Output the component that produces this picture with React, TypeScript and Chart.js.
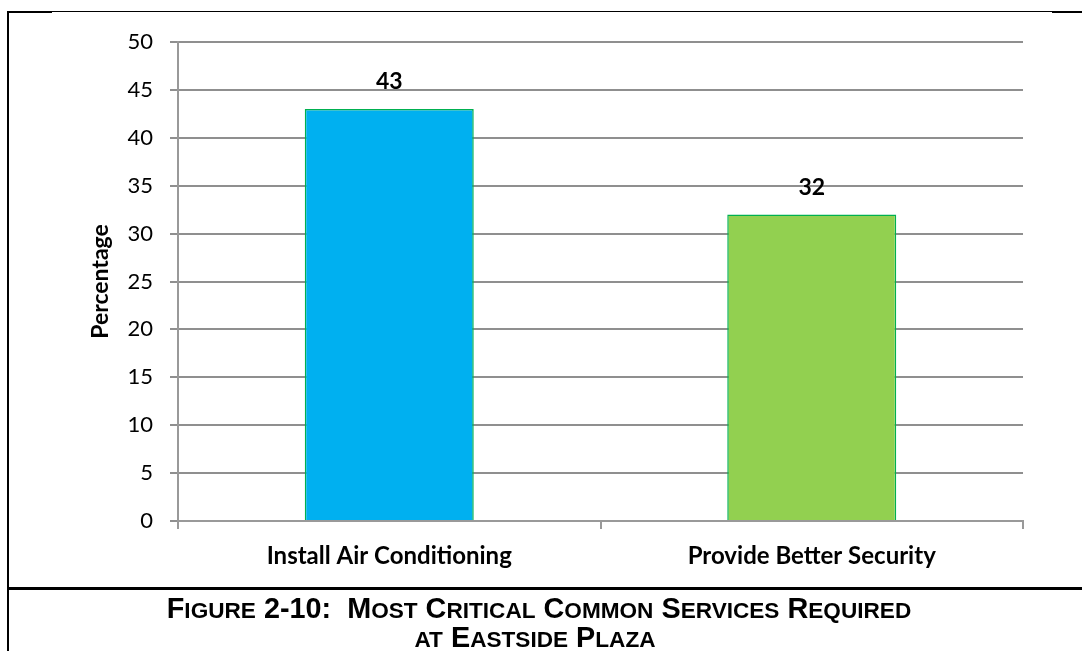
import React, { useEffect, useRef } from "react";
import { Chart, registerables } from "chart.js";

Chart.register(...registerables);

// Survey results: share of respondents naming each service
const categories = ["Install Air Conditioning", "Provide Better Security"];
const percentages = [43, 32];
const barColors = ["#00B0F0", "#92D050"];
const yTicks = [0, 5, 10, 15, 20, 25, 30, 35, 40, 45, 50];

const captionLines = [
  "Figure 2-10:  Most Critical Common Services Required",
  "at Eastside Plaza",
];

const FONT = "Lato, 'Open Sans', sans-serif";

// Writes each bar's value in bold above it
const valueLabels = {
  id: "valueLabels",
  afterDatasetsDraw(chart: any) {
    const { ctx } = chart;
    const meta = chart.getDatasetMeta(0);
    ctx.save();
    ctx.font = `bold 23px ${FONT}`;
    ctx.fillStyle = "#000";
    ctx.textAlign = "center";
    ctx.textBaseline = "middle";
    meta.data.forEach((bar: any, i: number) => {
      ctx.fillText(String(percentages[i]), bar.x, bar.y - 27);
    });
    ctx.restore();
  },
};

// Small-caps caption: capitals full size, lower-case letters as smaller capitals
function SmallCaps({ text }: { text: string }) {
  const parts: { small: boolean; s: string }[] = [];
  for (const ch of text) {
    const small = ch >= "a" && ch <= "z";
    const last = parts[parts.length - 1];
    if (last && last.small === small) last.s += ch;
    else parts.push({ small, s: ch });
  }
  return (
    <>
      {parts.map((p, i) =>
        p.small ? (
          <span key={i} style={{ fontSize: 22.6 }}>
            {p.s.toUpperCase()}
          </span>
        ) : (
          <span key={i}>{p.s}</span>
        )
      )}
    </>
  );
}

export default function App() {
  const canvasRef = useRef<HTMLCanvasElement | null>(null);

  useEffect(() => {
    if (!canvasRef.current) return;
    const chart = new Chart(canvasRef.current, {
      type: "bar",
      data: {
        labels: categories,
        datasets: [
          {
            data: percentages,
            backgroundColor: barColors,
            borderColor: "#00B050",
            borderWidth: 1.5,
            categoryPercentage: 1,
            barPercentage: 0.4,
          },
        ],
      },
      options: {
        responsive: false,
        animation: false,
        layout: { padding: { left: 0, top: 42, right: 59, bottom: 70 } },
        plugins: {
          legend: { display: false },
          tooltip: { enabled: false },
          title: { display: false },
        },
        scales: {
          x: {
            offset: true,
            afterFit: (scale: any) => {
              scale.height = 60;
            },
            grid: {
              offset: true,
              drawOnChartArea: false,
              drawTicks: true,
              tickLength: 8,
              color: "#999999",
              lineWidth: 2,
            },
            border: { display: true, color: "#999999", width: 2 },
            ticks: {
              color: "#000",
              padding: 13,
              maxRotation: 0,
              font: { family: FONT, size: 24, weight: "bold" },
            },
          },
          y: {
            min: 0,
            max: 50,
            afterFit: (scale: any) => {
              scale.width = 178;
            },
            afterBuildTicks: (scale: any) => {
              scale.ticks = yTicks.map((v) => ({ value: v }));
            },
            grid: {
              color: "#8f8f8f",
              lineWidth: 2,
              drawTicks: true,
              tickLength: 8,
            },
            border: { display: true, color: "#999999", width: 2 },
            ticks: {
              color: "#000",
              padding: 17,
              font: { family: FONT, size: 22 },
            },
            title: {
              display: true,
              text: "Percentage",
              color: "#000",
              font: { family: FONT, size: 23, weight: "bold" },
              padding: { top: 87, bottom: 0 },
            },
          },
        },
      },
      plugins: [valueLabels],
    });
    return () => chart.destroy();
  }, []);

  const titleStyle: React.CSSProperties = {
    position: "absolute",
    left: 8,
    width: 1062,
    textAlign: "center",
    fontFamily: "'Liberation Sans', Arial, sans-serif",
    fontWeight: "bold",
    fontSize: 28.8,
    lineHeight: "28px",
    whiteSpace: "pre",
    color: "#000",
  };

  return (
    <div
      style={{
        position: "absolute",
        left: 0,
        top: 0,
        width: 1082,
        height: 651,
        background: "#fff",
        overflow: "hidden",
      }}
    >
      <canvas
        ref={canvasRef}
        width={1082}
        height={651}
        style={{ position: "absolute", left: 0, top: 0 }}
      />
      {/* page frame around the figure */}
      <div style={{ position: "absolute", left: 7, top: 11, width: 1075, height: 1, background: "#000" }} />
      <div style={{ position: "absolute", left: 7, top: 11, width: 45, height: 2, background: "#000" }} />
      <div style={{ position: "absolute", left: 1052, top: 11, width: 30, height: 2, background: "#000" }} />
      <div style={{ position: "absolute", left: 7, top: 11, width: 2, height: 640, background: "#000" }} />
      <div style={{ position: "absolute", left: 7, top: 587, width: 1075, height: 3, background: "#000" }} />
      <div style={{ ...titleStyle, top: 594 }}>
        <SmallCaps text={captionLines[0]} />
      </div>
      <div style={{ ...titleStyle, top: 623, width: 1054 }}>
        <SmallCaps text={captionLines[1]} />
      </div>
    </div>
  );
}
